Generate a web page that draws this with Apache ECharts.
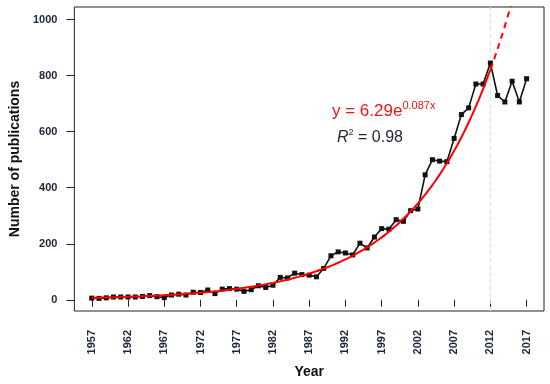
<!DOCTYPE html>
<html>
<head>
<meta charset="utf-8">
<script src="https://cdn.jsdelivr.net/npm/echarts@6/dist/echarts.min.js"></script>
<style>
html,body{margin:0;padding:0;background:#fff;}
#chart{width:550px;height:384px;}
</style>
</head>
<body>
<div id="chart"></div>
<script>
// Data
const years = [];
for (let y = 1957; y <= 2017; y++) years.push(y);
const publications = [
  6, 5, 7, 10, 10, 10, 10, 12, 15, 11,
  8, 17, 20, 17, 27, 26, 35, 22, 38, 40,
  38, 30, 36, 50, 44, 52, 80, 78, 95, 90,
  88, 82, 112, 157, 171, 167, 160, 202, 185, 224,
  254, 252, 286, 280, 318, 324, 446, 500, 495, 493,
  576, 661, 685, 770, 770, 845, 729, 706, 780, 706,
  789
];
const tickYears = [1957, 1962, 1967, 1972, 1977, 1982, 1987, 1992, 1997, 2002, 2007, 2012, 2017];
const yTicks = [0, 200, 400, 600, 800, 1000];
// Fit shown on the chart: y = 6.29 e^(0.087 x), x = year index starting at 1 (1957)
const fitA = 6.29, fitB = 0.087;
const fitEndYear = 2012;
const cutoffYear = 2012;

const pubData = years.map((y, i) => [y, publications[i]]);
const fitSolid = [];
for (let x = 1; x <= fitEndYear - 1956; x += 0.5) fitSolid.push([1956 + x, fitA * Math.exp(fitB * x)]);
const fitDashed = [];
for (let x = fitEndYear - 1956; x <= 60; x += 0.25) fitDashed.push([1956 + x, fitA * Math.exp(fitB * x)]);

const txtColor = '#1c2738';
const red = '#f01414';
const dark = '#222a36';
const font = 'Liberation Sans, Arial, Helvetica, sans-serif';

const chart = echarts.init(document.getElementById('chart'));
chart.setOption({
  animation: false,
  backgroundColor: '#fff',
  grid: { left: 74, right: 6, top: 7, bottom: 73, show: true, borderColor: '#222', borderWidth: 1, backgroundColor: 'transparent' },
  xAxis: {
    type: 'value', min: 1954.6, max: 2019.4,
    splitLine: { show: false },
    axisLine: { show: false },
    axisTick: { show: true, length: 7, lineStyle: { color: '#222' }, customValues: tickYears },
    axisLabel: { customValues: tickYears, formatter: v => String(v), rotate: 90, margin: 19, fontSize: 11, fontWeight: 'bold', color: txtColor, fontFamily: font },
    name: 'Year', nameLocation: 'middle', nameGap: 54,
    nameTextStyle: { fontSize: 14, fontWeight: 'bold', color: '#111', fontFamily: font }
  },
  yAxis: {
    type: 'value', min: -40, max: 1045,
    splitLine: { show: false },
    axisLine: { show: false },
    axisTick: { show: true, length: 8, lineStyle: { color: '#222' }, customValues: yTicks },
    axisLabel: { customValues: yTicks, formatter: v => String(v), margin: 17, fontSize: 11, fontWeight: 'bold', color: txtColor, fontFamily: font },
    name: 'Number of publications', nameLocation: 'middle', nameGap: 52,
    nameTextStyle: { fontSize: 14, fontWeight: 'bold', color: '#111', fontFamily: font }
  },
  series: [
    {
      type: 'line', data: [[cutoffYear, -40], [cutoffYear, 1045]], symbol: 'none', silent: true,
      lineStyle: { color: '#dcdcdc', width: 1, type: [4, 3] }, z: 1
    },
    {
      type: 'line', data: pubData, symbol: 'rect', symbolSize: 5,
      itemStyle: { color: '#111' }, lineStyle: { color: '#111', width: 1.6 }, z: 3
    },
    {
      type: 'line', data: fitSolid, symbol: 'none', smooth: true,
      lineStyle: { color: '#ff0000', width: 2 }, z: 4
    },
    {
      type: 'line', data: fitDashed, symbol: 'none', smooth: true, clip: true,
      lineStyle: { color: '#ff0000', width: 2, type: [6, 5] }, z: 4
    }
  ],
  graphic: [
    {
      type: 'text', left: 332, top: 100,
      style: {
        text: '{a|y = 6.29e}{b|0.087x}',
        fill: red,
        rich: {
          a: { fontSize: 17, fill: red, color: red, fontFamily: font },
          b: { fontSize: 11, fill: red, color: red, fontFamily: font, verticalAlign: 'top', padding: [0, 0, 12, 0] }
        }
      }
    },
    {
      type: 'text', left: 337, top: 128,
      style: {
        text: '{r|R}{s|2}{e| = 0.98}',
        fill: dark,
        rich: {
          r: { fontSize: 16, fontStyle: 'italic', fill: dark, color: dark, fontFamily: font },
          s: { fontSize: 9, fill: dark, color: dark, fontFamily: font, padding: [0, 0, 10, 0] },
          e: { fontSize: 16, fill: dark, color: dark, fontFamily: font }
        }
      }
    }
  ]
});
</script>
</body>
</html>
